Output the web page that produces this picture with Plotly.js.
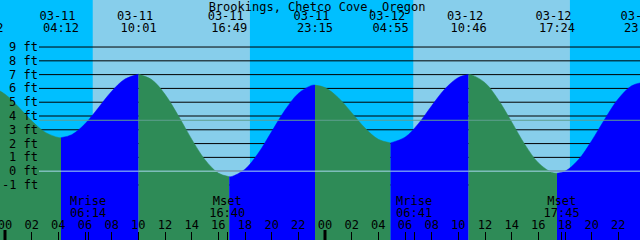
<!DOCTYPE html>
<html><head><meta charset="utf-8">
<script src="https://cdn.plot.ly/plotly-3.0.1.min.js"></script>
<style>html,body{margin:0;padding:0;background:#fff}#chart{width:640px;height:240px}</style>
</head><body><div id="chart"></div>
<script>
// ---------- data (hours since 03-11 00:00, levels in ft) ----------
const stationName = "Brookings, Chetco Cove, Oregon";
const eventTimes  = [-1.467, 4.2, 10.017, 16.817, 23.25, 28.917, 34.767, 41.4, 47.783];
const eventLevels = [6.16, 2.43, 7.02, -0.40, 6.24, 2.05, 7.00, -0.15, 6.43];
const eventDates  = ["03-10","03-11","03-11","03-11","03-11","03-12","03-12","03-12","03-12"];
const eventClock  = ["22:32","04:12","10:01","16:49","23:15","04:55","10:46","17:24","23:47"];

const curveTimes  = [-1.467,-1,0,1,2,3,4,4.2,5,6,7,8,9,10.017,11,12,13,14,15,16,16.817,17,18,19,20,21,22,23,23.25,
                     24,25,26,27,28,28.917,30,31,32,33,34,34.767,35,36,37,38,39,40,41,41.4,42,43,44,45,46,47,47.783];
const curveLevels = [6.16,6.10,5.58,4.67,3.65,2.83,2.44,2.43,2.64,3.43,4.59,5.79,6.68,7.02,6.64,5.57,4.02,2.32,0.83,-0.14,-0.40,-0.39,0.14,1.31,2.87,4.43,5.64,6.22,6.24,
                     6.06,5.33,4.24,3.13,2.31,2.05,2.46,3.44,4.74,5.97,6.79,7.00,6.98,6.41,5.18,3.57,1.92,0.61,-0.09,-0.15,-0.01,0.82,2.20,3.80,5.25,6.19,6.43];

const sunrise = [6.58, 30.62];
const sunset  = [18.37, 42.37];

const moonTimes = [6.233, 16.667, 30.683, 41.75];
const moonNames = ["Mrise","Mset","Mrise","Mset"];
const moonClock = ["06:14","16:40","06:41","17:45"];

const hourTicks  = [0,2,4,6,8,10,12,14,16,18,20,22,24,26,28,30,32,34,36,38,40,42,44,46];
const hourLabels = ["00","02","04","06","08","10","12","14","16","18","20","22",
                    "00","02","04","06","08","10","12","14","16","18","20","22"];
const midnights  = [0, 24];
const depthLevels = [-1,0,1,2,3,4,5,6,7,8,9];
const depthLabels = ["-1 ft","0 ft","1 ft","2 ft","3 ft","4 ft","5 ft","6 ft","7 ft","8 ft","9 ft"];
const meanLevel  = 3.69;
const datumLevel = 0;

// ---------- layout constants ----------
const W = 640, H = 240;
const X_RANGE = [-0.375, 47.625];
const Y_RANGE = [-4.99, 12.41];
const FONT = "DejaVu Sans Mono, monospace";
const C = {night:"#00BFFF", day:"#87CEEB", flood:"#0000FF", ebb:"#2E8B57",
           mean:"#5f9f8f", datum:"#a8d8ee", ink:"#000000"};
const pxPerHour = W / (X_RANGE[1] - X_RANGE[0]);
const pxToY = p => Y_RANGE[1] - p * (Y_RANGE[1] - Y_RANGE[0]) / H;
const BASE = Y_RANGE[0] - 2;
const LINE_X0 = 39 / W;
const DATE_SHIFT = -3.5 / pxPerHour;

const traces = [];
// water segments between successive extremes (rising = flood colour, falling = ebb colour)
for (let i = 0; i < eventTimes.length - 1; i++) {
  const t0 = eventTimes[i], t1 = eventTimes[i + 1];
  const xs = [], ys = [];
  curveTimes.forEach((t, k) => { if (t >= t0 - 1e-6 && t <= t1 + 1e-6) { xs.push(t); ys.push(curveLevels[k]); } });
  const col = eventLevels[i + 1] > eventLevels[i] ? C.flood : C.ebb;
  traces.push({x: xs, y: xs.map(() => BASE), mode: "lines", line: {width: 0}, hoverinfo: "skip", showlegend: false});
  traces.push({x: xs, y: ys, mode: "lines", line: {width: 0.5, color: col, shape: "spline", smoothing: 1},
               fill: "tonexty", fillcolor: col, hoverinfo: "skip", showlegend: false});
}
// tide event labels (date row, time row) and moon labels
const txt = (x, y, text) => ({x, y, text, mode: "text", textposition: "middle center",
  textfont: {family: FONT, size: 12, color: C.ink}, hoverinfo: "skip", showlegend: false, cliponaxis: true});
traces.push(txt(eventTimes.map(t => t + DATE_SHIFT), eventTimes.map(() => pxToY(17)), eventDates));
traces.push(txt(eventTimes, eventTimes.map(() => pxToY(29)), eventClock));
traces.push(txt(moonTimes, moonTimes.map(() => pxToY(202)), moonNames));
traces.push(txt(moonTimes, moonTimes.map(() => pxToY(213.5)), moonClock));

const shapes = [];
sunrise.forEach((r, i) => shapes.push({type: "rect", xref: "x", yref: "paper", x0: r, x1: sunset[i], y0: 0, y1: 1,
  fillcolor: C.day, line: {width: 0}, layer: "below"}));
depthLevels.forEach(v => shapes.push({type: "line", xref: "paper", yref: "y", x0: LINE_X0, x1: 1, y0: v, y1: v,
  line: {color: C.ink, width: 1}, layer: "below"}));
shapes.push({type: "line", xref: "paper", yref: "y", x0: LINE_X0, x1: 1, y0: meanLevel, y1: meanLevel,
  line: {color: C.mean, width: 1}, layer: "above"});
shapes.push({type: "line", xref: "paper", yref: "y", x0: LINE_X0, x1: 1, y0: datumLevel, y1: datumLevel,
  line: {color: C.datum, width: 1}, layer: "above"});
midnights.forEach(m => shapes.push({type: "line", xref: "x", yref: "paper", x0: m, x1: m, y0: 0, y1: 10 / H,
  line: {color: C.ink, width: 3}, layer: "above"}));

// depth labels, right-aligned just left of the depth lines
const annotations = depthLevels.map((v, i) => ({xref: "paper", yref: "y", x: 37.5 / W, y: v, xanchor: "right",
  yanchor: "middle", text: depthLabels[i], showarrow: false, borderpad: 0, borderwidth: 0,
  font: {family: FONT, size: 12, color: C.ink}}));

const layout = {
  width: W, height: H, margin: {l: 0, r: 0, t: 0, b: 0, pad: 0},
  paper_bgcolor: C.night, plot_bgcolor: C.night,
  font: {family: FONT, size: 12, color: C.ink},
  title: {text: stationName, x: 317 / W, xanchor: "center", y: 1 - 7 / H, yanchor: "middle", yref: "container",
          font: {family: FONT, size: 12, color: C.ink}},
  xaxis: {range: X_RANGE, tickmode: "array",
          tickvals: hourTicks.concat(moonTimes), ticktext: hourLabels.concat(moonTimes.map(() => "")),
          ticks: "inside", ticklen: 8, tickwidth: 1, tickcolor: C.ink, ticklabelposition: "inside",
          ticklabeloverflow: "allow",
          tickfont: {family: FONT, size: 12, color: C.ink}, showgrid: false, zeroline: false, showline: false, fixedrange: true},
  yaxis: {range: Y_RANGE, showticklabels: false, ticks: "",
          showgrid: false, zeroline: false, showline: false, fixedrange: true},
  shapes: shapes, annotations: annotations, showlegend: false
};
Plotly.newPlot("chart", traces, layout, {staticPlot: true, displayModeBar: false});
</script></body></html>
